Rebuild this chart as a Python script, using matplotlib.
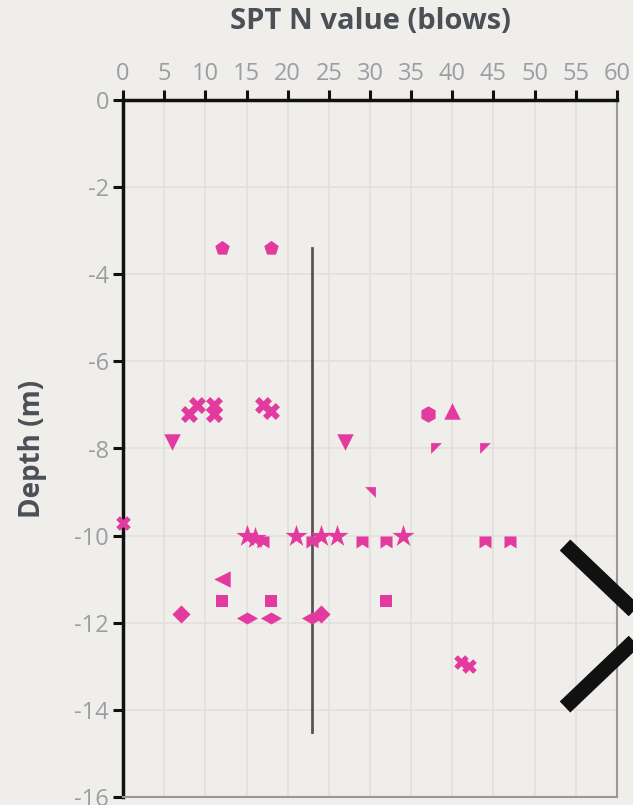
import numpy as np
import matplotlib.pyplot as plt
from matplotlib.path import Path
from matplotlib.lines import Line2D

plt.rcParams['font.family'] = ['Open Sans', 'DejaVu Sans']
plt.rcParams['axes.unicode_minus'] = False

# SPT N value (blows) and depth (m), grouped by marker shape
pent_n = [12, 18]
pent_d = [-3.4, -3.4]

cross_n = [8, 9, 11, 11, 17, 18]
cross_d = [-7.2, -7.0, -7.0, -7.2, -7.0, -7.15]

hex_n = [37]
hex_d = [-7.2]

tri_up_n = [40]
tri_up_d = [-7.15]

tri_down_n = [6, 27]
tri_down_d = [-7.85, -7.85]

corner_nw_n = [38, 44]
corner_nw_d = [-8.0, -8.0]

corner_ne_n = [30]
corner_ne_d = [-9.0]

x_n = [0, 41, 42]
x_d = [-9.7, -12.9, -13.0]

star_n = [15, 16, 21, 24, 26, 34]
star_d = [-10.0, -10.05, -10.0, -10.0, -10.0, -10.0]

flag_n = [17, 23, 29, 32, 44, 47]
flag_d = [-10.15, -10.15, -10.15, -10.15, -10.15, -10.15]

tri_left_n = [12]
tri_left_d = [-11.0]

square_n = [12, 18, 32]
square_d = [-11.5, -11.5, -11.5]

diamond_n = [7, 24]
diamond_d = [-11.8, -11.8]

wide_n = [15, 18, 23]
wide_d = [-11.9, -11.9, -11.9]

# reference line
ref_n = [23, 23]
ref_d = [-3.4, -14.5]

pink = '#E33A9F'
bg = '#F0EEEA'

corner_nw = Path([(-1, 1), (1, 1), (-1, -1), (-1, 1)])
corner_ne = Path([(-1, 1), (1, 1), (1, -1), (-1, 1)])
flag = Path([(-1, 1), (1, 1), (1, -1), (0, -0.35), (-1, -1), (-1, 1)])
wide = Path([(-1.5, 0), (0, 0.85), (1.5, 0), (0, -0.85), (-1.5, 0)])

fig = plt.figure(figsize=(6.33, 8.05), dpi=100, facecolor=bg)
ax = fig.add_axes([123 / 633, 1 - 797 / 805, 494 / 633, 697 / 805])
ax.set_facecolor(bg)

ax.plot(ref_n, ref_d, color='#555555', lw=2, zorder=2)

groups = [
    (pent_n, pent_d, 'p', 120),
    (cross_n, cross_d, 'X', 150),
    (hex_n, hex_d, 'h', 140),
    (tri_up_n, tri_up_d, '^', 140),
    (tri_down_n, tri_down_d, 'v', 140),
    (corner_nw_n, corner_nw_d, corner_nw, 60),
    (corner_ne_n, corner_ne_d, corner_ne, 60),
    (x_n, x_d, 'X', 110),
    (star_n, star_d, '*', 280),
    (flag_n, flag_d, flag, 75),
    (tri_left_n, tri_left_d, '<', 140),
    (square_n, square_d, 's', 85),
    (diamond_n, diamond_d, 'D', 85),
    (wide_n, wide_d, wide, 230),
]
for n, d, m, s in groups:
    ax.scatter(n, d, marker=m, s=s, color=pink, linewidths=0, zorder=3,
               clip_on=False)

ax.set_xlim(0, 60)
ax.set_ylim(-16, 0)
ax.set_xticks(np.arange(0, 61, 5))
ax.set_yticks(np.arange(-16, 1, 2))
ax.xaxis.tick_top()
ax.xaxis.set_label_position('top')
ax.grid(True, color='#E2DFDC', lw=1.2)
ax.set_axisbelow(True)

for side in ['left', 'top']:
    ax.spines[side].set_color('#111111')
    ax.spines[side].set_linewidth(2.5)
for side in ['right', 'bottom']:
    ax.spines[side].set_color('#999999')
    ax.spines[side].set_linewidth(1.5)

ax.tick_params(axis='both', length=7, width=2.2, color='#111111',
               labelcolor='#9A9EA4', labelsize=17, pad=3)

ax.set_xlabel('SPT N value (blows)', fontsize=21, fontweight='bold',
              color='#4B5057', labelpad=24)
ax.set_ylabel('Depth (m)', fontsize=20, fontweight='bold',
              color='#4B5057', labelpad=20)

# carousel arrow overlay at the right edge
fig.add_artist(Line2D([565 / 633, 650 / 633, 565 / 633],
                      [1 - 545 / 805, 1 - 626 / 805, 1 - 707 / 805],
                      transform=fig.transFigure, color='#111111', lw=11,
                      solid_capstyle='butt', solid_joinstyle='miter', zorder=10))

fig.savefig('out.png', dpi=100, facecolor=bg)
